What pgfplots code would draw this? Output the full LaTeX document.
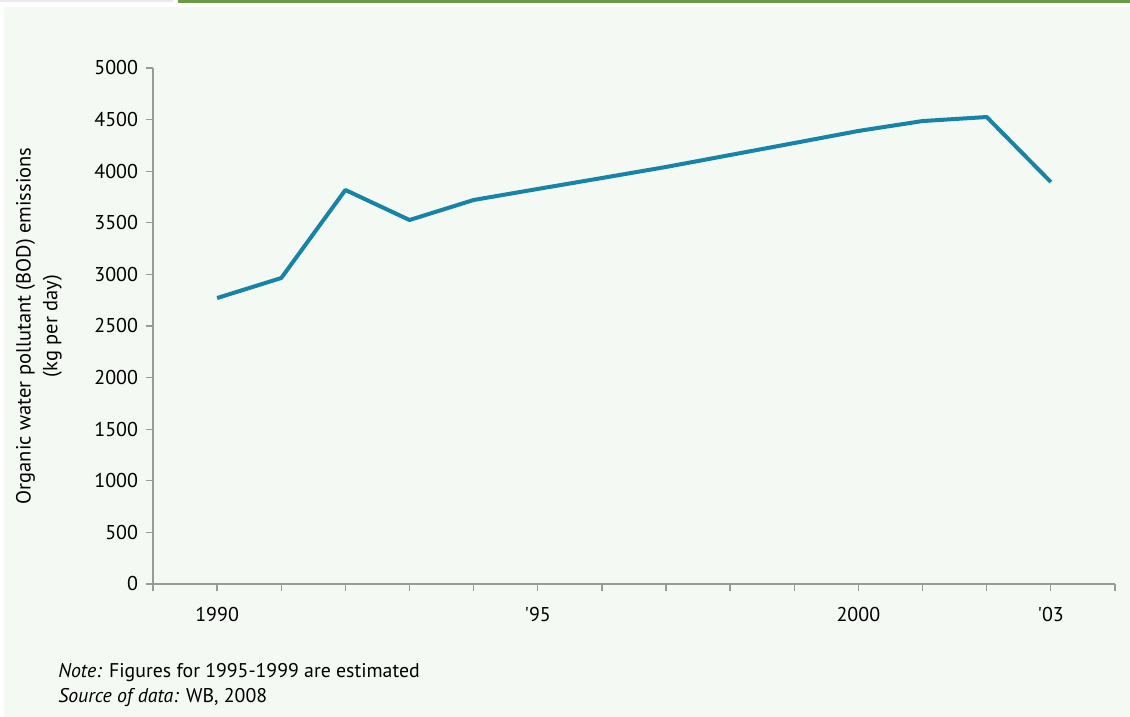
\documentclass[border=0pt]{standalone}
\usepackage{pgfplots}
\pgfplotsset{compat=1.18}
\usepackage{fontspec}
\setmainfont{PT Sans}
\definecolor{bgc}{HTML}{F4F9F3}
\definecolor{grn}{HTML}{6B9A44}
\definecolor{topgray}{HTML}{EBEBEB}
\definecolor{linec}{HTML}{1783A6}
\definecolor{axc}{HTML}{9A9A9A}
\begin{document}
\begin{tikzpicture}
\path (0,0) rectangle (678pt,430.2pt);
\fill[bgc] (2.4pt,0) rectangle (678pt,426pt);
\fill[topgray] (0,428.7pt) rectangle (103.8pt,430.2pt);
\fill[grn] (106.8pt,428.6pt) rectangle (678pt,430.2pt);
\begin{axis}[
  at={(91.8pt,79.8pt)}, anchor=south west,
  scale only axis, width=577.2pt, height=309.6pt,
  xmin=1989, xmax=2004, ymin=0, ymax=5000,
  axis x line*=bottom, axis y line*=left,
  axis line style={axc, line width=0.8pt},
  every tick/.style={axc, line width=0.8pt},
  tick align=outside, major tick length=4.5pt,
  xtick={1989,...,2004},
  xticklabels={,1990,,,,,\textquotesingle95,,,,,2000,,,\textquotesingle03,},
  ytick={0,500,...,5000},
  /pgf/number format/assume math mode=true,
  /pgf/number format/1000 sep={},
  tick label style={font=\fontsize{12}{14}\selectfont, black},
  xticklabel style={yshift=-6pt},
  yticklabel style={xshift=-1pt},
  ylabel={Organic water pollutant (BOD) emissions\\(kg per day)},
  ylabel style={at={(axis description cs:-0.1185,0.5)}, anchor=center, align=center, font=\fontsize{12.3}{16}\selectfont},
  clip=false,
]
\addplot[linec, line width=2.4pt, line join=round] coordinates {
(1990,2771) (1991,2965) (1992,3818) (1993,3527) (1994,3721)
(1995,3828) (1996,3934) (1997,4041) (1998,4157) (1999,4273)
(2000,4390) (2001,4486) (2002,4525) (2003,3895)
};
\end{axis}
\node[anchor=base west, font=\fontsize{11.9}{14}\selectfont, inner sep=0] at (34.8pt,23.4pt) {\textit{Note:} Figures for 1995-1999 are estimated};
\node[anchor=base west, font=\fontsize{11.9}{14}\selectfont, inner sep=0] at (34.8pt,8.4pt) {\textit{Source of data:} WB, 2008};
\end{tikzpicture}
\end{document}
